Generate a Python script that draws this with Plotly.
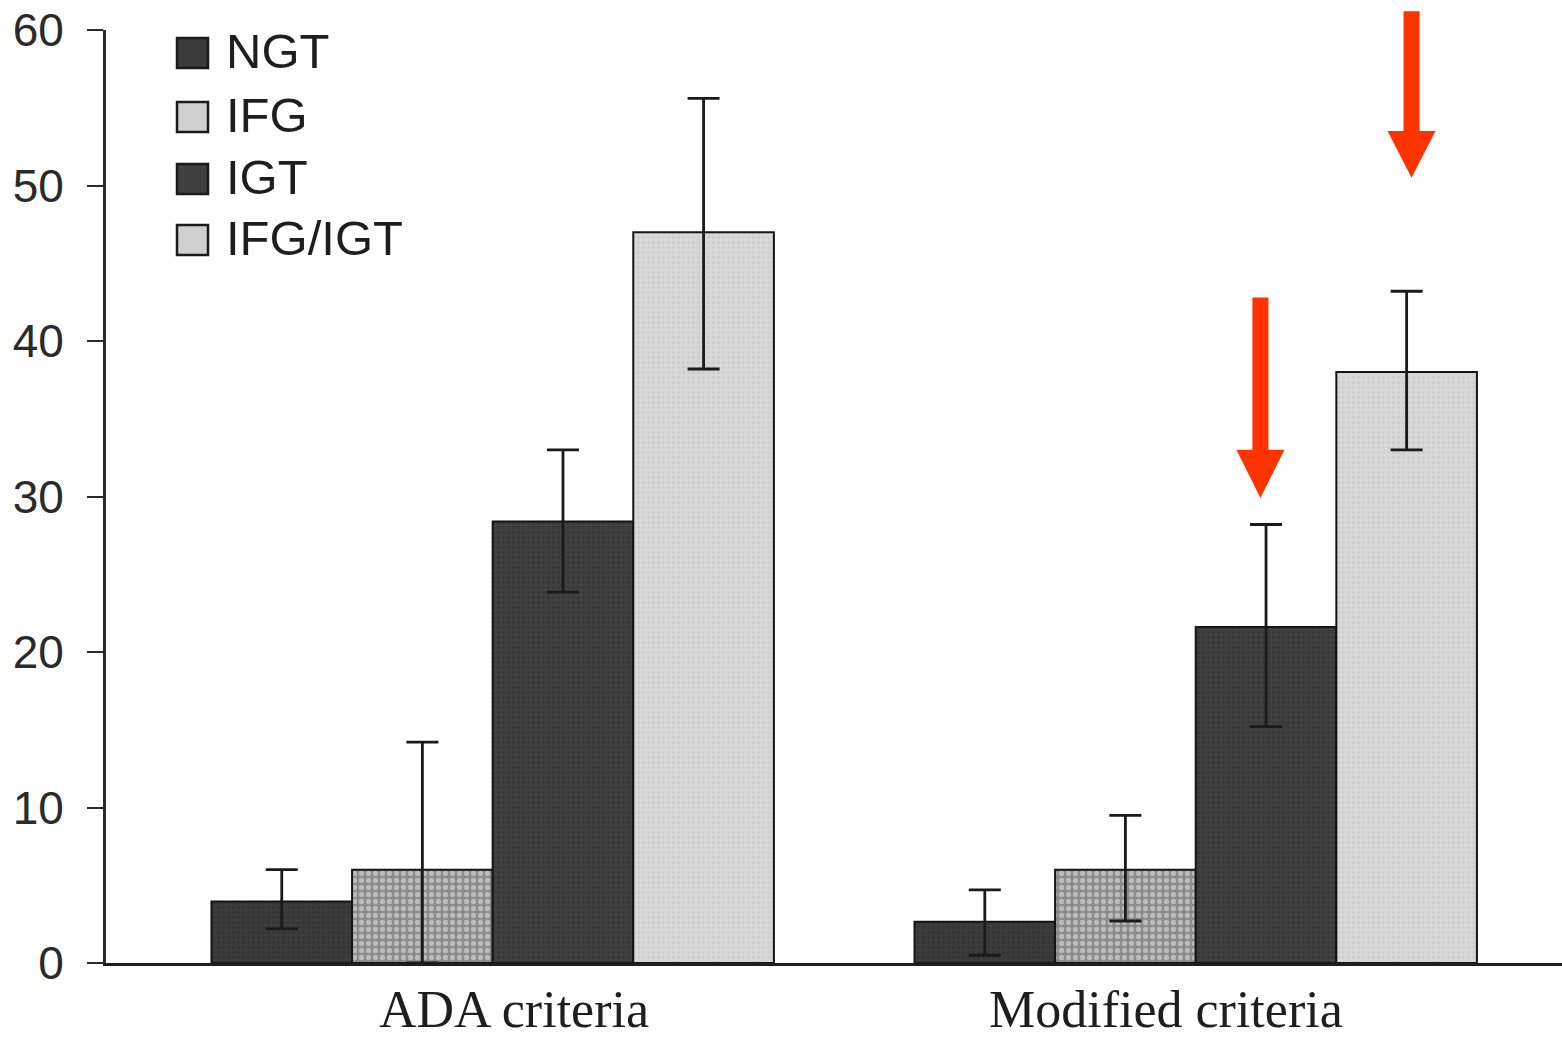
import plotly.graph_objects as go

# Prevalence by glucose-tolerance group under two diagnostic criteria
categories = ["ADA criteria", "Modified criteria"]
groups = ["NGT", "IFG", "IGT", "IFG/IGT"]

ngt_mean = [3.95, 2.65]
ngt_upper = [6.0, 4.7]
ngt_lower = [2.2, 0.5]

ifg_mean = [6.0, 6.0]
ifg_upper = [14.2, 9.5]
ifg_lower = [0.0, 2.7]

igt_mean = [28.4, 21.6]
igt_upper = [33.0, 28.2]
igt_lower = [23.85, 15.2]

ifg_igt_mean = [47.0, 38.0]
ifg_igt_upper = [55.6, 43.2]
ifg_igt_lower = [38.2, 33.0]

y_ticks = [0, 10, 20, 30, 40, 50, 60]

means = [ngt_mean, ifg_mean, igt_mean, ifg_igt_mean]
uppers = [ngt_upper, ifg_upper, igt_upper, ifg_igt_upper]
lowers = [ngt_lower, ifg_lower, igt_lower, ifg_igt_lower]

# Fill styles for each group (greyscale print look)
styles = [
    dict(color="#3a3a3a", pattern=dict(shape=".", fgcolor="#2a2a2a", bgcolor="#3c3c3c", size=5, solidity=0.3)),
    dict(color="#a4a4a4", pattern=dict(shape=".", fgcolor="#ececec", bgcolor="#8a8a8a", size=7, solidity=0.45)),
    dict(color="#3e3e3e", pattern=dict(shape=".", fgcolor="#2c2c2c", bgcolor="#404040", size=5, solidity=0.3)),
    dict(color="#d4d4d4", pattern=dict(shape=".", fgcolor="#c2c2c2", bgcolor="#d8d8d8", size=5, solidity=0.3)),
]
legend_fill = ["#3a3a3a", "#d0d0d0", "#404040", "#d0d0d0"]

positions = list(range(len(categories)))

fig = go.Figure()
for name, m, up, lo, st in zip(groups, means, uppers, lowers, styles):
    fig.add_bar(
        x=positions,
        y=m,
        name=name,
        showlegend=False,
        marker=dict(color=st["color"], pattern=st["pattern"],
                    line=dict(color="#141414", width=2)),
        error_y=dict(
            type="data",
            symmetric=False,
            array=[u - v for u, v in zip(up, m)],
            arrayminus=[v - l for v, l in zip(m, lo)],
            color="#1a1a1a",
            thickness=2.8,
            width=16,
        ),
    )

# Plot-area geometry in pixels, used for placing the legend and labels
Y_MAX = 60
x0_px, x1_px, top_px, bot_px = 106, 1562, 30, 963
pw, ph = x1_px - x0_px, bot_px - top_px

# Legend drawn as large squares with labels
legend_centers_px = [53, 117, 179, 240]
for name, fill, cy in zip(groups, legend_fill, legend_centers_px):
    fig.add_shape(
        type="rect", xref="paper", yref="paper",
        x0=(177 - x0_px) / pw, x1=(208 - x0_px) / pw,
        y0=(bot_px - (cy + 15)) / ph, y1=(bot_px - (cy - 15)) / ph,
        fillcolor=fill, line=dict(color="#1a1a1a", width=2.5),
    )
    fig.add_annotation(
        text=name, xref="paper", yref="paper",
        x=(224 - x0_px) / pw, y=(bot_px - (cy - 2)) / ph,
        xanchor="left", yanchor="middle", showarrow=False,
        font=dict(family="Liberation Sans, Arial, sans-serif", size=49, color="#1e1e1e"),
    )

# Category labels under each group (slightly off-centre, as typeset)
label_shift = [0.03, -0.042]
for pos, cat, dx in zip(positions, categories, label_shift):
    fig.add_annotation(
        text=cat, xref="x", yref="paper",
        x=pos + dx, y=(bot_px - 1009) / ph,
        xanchor="center", yanchor="middle", showarrow=False,
        font=dict(family="Liberation Serif, Times New Roman, serif", size=52, color="#1e1e1e"),
    )

# Red arrows highlighting the modified-criteria IGT and IFG/IGT bars
arrow_color = "#ff3300"
arrows = [
    # x, shaft top (data units), head base, tip
    (1.092, 42.8, 33.0, 29.9),
    (1.307, 61.2, 53.5, 50.5),
]
shaft_half = 8 / 703
head_half = 24 / 703
for ax_x, top, base, tip in arrows:
    fig.add_shape(
        type="rect", xref="x", yref="paper",
        x0=ax_x - shaft_half, x1=ax_x + shaft_half,
        y0=(base - 0.1) / Y_MAX, y1=top / Y_MAX,
        fillcolor=arrow_color, line=dict(width=0),
    )
    fig.add_shape(
        type="path", xref="x", yref="paper",
        path=(f"M {ax_x - head_half} {base / Y_MAX} "
              f"L {ax_x + head_half} {base / Y_MAX} "
              f"L {ax_x} {tip / Y_MAX} Z"),
        fillcolor=arrow_color, line=dict(width=0),
    )

fig.update_layout(
    width=1562,
    height=1041,
    margin=dict(l=106, r=0, t=30, b=78),
    barmode="group",
    bargap=0.2,
    bargroupgap=0,
    paper_bgcolor="white",
    plot_bgcolor="white",
    showlegend=False,
)

fig.update_xaxes(
    range=[-0.55, 1.521],
    tickvals=positions,
    ticktext=categories,
    showticklabels=False,
    showline=True,
    linecolor="#1e1e1e",
    linewidth=3,
    ticks="",
    showgrid=False,
    zeroline=False,
)

fig.update_yaxes(
    range=[0, Y_MAX],
    tickvals=y_ticks,
    showline=True,
    linecolor="#2a2a2a",
    linewidth=3,
    ticks="outside",
    ticklen=16,
    tickwidth=2,
    tickcolor="#2a2a2a",
    showgrid=False,
    zeroline=False,
    tickfont=dict(family="Liberation Sans, Arial, sans-serif", size=46, color="#2a2a2a"),
    ticklabelstandoff=14,
)

fig.write_html("out.html")
